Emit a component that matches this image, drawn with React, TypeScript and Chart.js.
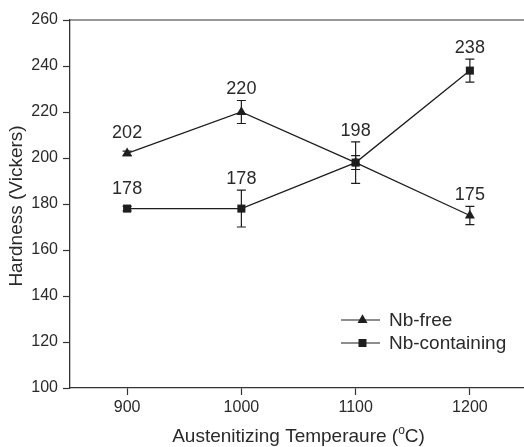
import React, { useEffect, useRef } from 'react';
import { Chart, registerables } from 'chart.js';

Chart.register(...registerables);

const temperatures = [900, 1000, 1100, 1200];
const nbFree = [202, 220, 198, 175];
const nbFreeErr = [1, 5, 3, 4];
const nbContaining = [178, 178, 198, 238];
const nbContainingErr = [1, 8, 9, 5];
const xTicks = [900, 1000, 1100, 1200];
const seriesNames = ['Nb-free', 'Nb-containing'];

const W = 534;
const H = 447;
const FONT = "'Liberation Sans', Arial, Helvetica, sans-serif";
const INK = '#1e1e1e';
const TEXT = '#2a2a2a';

function drawMarker(ctx: CanvasRenderingContext2D, style: string, x: number, y: number) {
  ctx.save();
  ctx.fillStyle = INK;
  ctx.beginPath();
  if (style === 'triangle') {
    const r = 5.8;
    ctx.moveTo(x, y - r);
    ctx.lineTo(x + r * 0.866, y + r * 0.5);
    ctx.lineTo(x - r * 0.866, y + r * 0.5);
    ctx.closePath();
  } else {
    const s = 8;
    ctx.rect(x - s / 2, y - s / 2, s, s);
  }
  ctx.fill();
  ctx.restore();
}

const errors = [nbFreeErr, nbContainingErr];
const values = [nbFree, nbContaining];
const styles = ['triangle', 'rect'];

const extrasPlugin = {
  id: 'extras',
  beforeDatasetsDraw(chart: any) {
    const ctx = chart.ctx as CanvasRenderingContext2D;
    const xs = chart.scales.x;
    const ys = chart.scales.y;
    ctx.save();
    ctx.strokeStyle = INK;
    ctx.lineWidth = 1.2;
    values.forEach((vals, di) => {
      vals.forEach((v, i) => {
        const e = errors[di][i];
        if (!e) return;
        const x = xs.getPixelForValue(temperatures[i]);
        const yt = ys.getPixelForValue(v + e);
        const yb = ys.getPixelForValue(v - e);
        ctx.beginPath();
        ctx.moveTo(x, yt);
        ctx.lineTo(x, yb);
        ctx.moveTo(x - 4.5, yt);
        ctx.lineTo(x + 4.5, yt);
        ctx.moveTo(x - 4.5, yb);
        ctx.lineTo(x + 4.5, yb);
        ctx.stroke();
      });
    });
    ctx.restore();
  },
  afterDraw(chart: any) {
    const ctx = chart.ctx as CanvasRenderingContext2D;
    const xs = chart.scales.x;
    const ys = chart.scales.y;
    const area = chart.chartArea;
    ctx.save();
    // top border
    ctx.strokeStyle = '#333';
    ctx.lineWidth = 1.2;
    ctx.beginPath();
    ctx.moveTo(area.left, area.top);
    ctx.lineTo(area.right, area.top);
    ctx.stroke();

    // data labels (one label per distinct point)
    ctx.fillStyle = TEXT;
    ctx.font = `18px ${FONT}`;
    ctx.textAlign = 'center';
    ctx.textBaseline = 'middle';
    const seen = new Set<string>();
    const labels: { x: number; y: number; text: string; key: string }[] = [];
    values.forEach((vals, di) => {
      vals.forEach((v, i) => {
        const key = `${temperatures[i]}-${v}`;
        const maxErr = Math.max(
          ...values.map((vs, dj) => (vs[i] === v ? errors[dj][i] : 0))
        );
        const x = xs.getPixelForValue(temperatures[i]);
        const yp = ys.getPixelForValue(v);
        const yt = ys.getPixelForValue(v + maxErr);
        const y = Math.min(yp - 20, yt - 11);
        labels.push({ x, y, text: String(v), key });
      });
    });
    labels.forEach((l) => {
      if (seen.has(l.key)) return;
      seen.add(l.key);
      ctx.fillText(l.text, l.x, l.y);
    });

    // legend
    const lx0 = 341;
    const lx1 = 380;
    const rows = [320, 343];
    ctx.font = `19px ${FONT}`;
    ctx.textAlign = 'left';
    rows.forEach((ry, k) => {
      ctx.strokeStyle = INK;
      ctx.lineWidth = 1.2;
      ctx.beginPath();
      ctx.moveTo(lx0, ry);
      ctx.lineTo(lx1, ry);
      ctx.stroke();
      drawMarker(ctx, styles[k], (lx0 + lx1) / 2 + 2, ry);
      ctx.fillStyle = TEXT;
      ctx.fillText(seriesNames[k], 389, ry + 1);
    });

    // y title
    ctx.save();
    ctx.translate(17, (area.top + area.bottom) / 2 + 2);
    ctx.rotate(-Math.PI / 2);
    ctx.textAlign = 'center';
    ctx.textBaseline = 'middle';
    ctx.font = `19px ${FONT}`;
    ctx.fillText('Hardness (Vickers)', 0, 0);
    ctx.restore();

    // x title with superscript o
    const a = 'Austenitizing Temperaure (';
    const sup = 'o';
    const b = 'C)';
    ctx.font = `19px ${FONT}`;
    const wa = ctx.measureText(a).width;
    const wb = ctx.measureText(b).width;
    ctx.font = `12px ${FONT}`;
    const ws = ctx.measureText(sup).width;
    const total = wa + ws + wb;
    const cx = (area.left + 524 + 3) / 2;
    let x = cx - total / 2;
    const y = 437;
    ctx.textAlign = 'left';
    ctx.textBaseline = 'middle';
    ctx.font = `19px ${FONT}`;
    ctx.fillText(a, x, y);
    x += wa;
    ctx.font = `12px ${FONT}`;
    ctx.fillText(sup, x, y - 6);
    x += ws;
    ctx.font = `19px ${FONT}`;
    ctx.fillText(b, x, y);
    ctx.restore();
  },
};

export default function App() {
  const ref = useRef<HTMLCanvasElement>(null);
  useEffect(() => {
    document.body.style.margin = '0';
    document.body.style.overflow = 'hidden';
    document.documentElement.style.overflow = 'hidden';
    const chart = new Chart(ref.current as HTMLCanvasElement, {
      type: 'scatter',
      data: {
        datasets: [
          {
            label: seriesNames[0],
            data: temperatures.map((t, i) => ({ x: t, y: nbFree[i] })),
            showLine: true,
            borderColor: INK,
            backgroundColor: INK,
            borderWidth: 1.3,
            pointStyle: 'triangle',
            pointRadius: 5.8,
            pointBackgroundColor: INK,
            pointBorderWidth: 0,
          },
          {
            label: seriesNames[1],
            data: temperatures.map((t, i) => ({ x: t, y: nbContaining[i] })),
            showLine: true,
            borderColor: INK,
            backgroundColor: INK,
            borderWidth: 1.3,
            pointStyle: 'rect',
            pointRadius: 5.7,
            pointBackgroundColor: INK,
            pointBorderWidth: 0,
          },
        ],
      },
      options: {
        responsive: false,
        animation: false,
        devicePixelRatio: 1,
        layout: { padding: { top: 20, right: 7, left: 0, bottom: 0 } },
        plugins: { legend: { display: false }, tooltip: { enabled: false } },
        scales: {
          x: {
            type: 'linear',
            min: 850,
            max: 1250,
            afterBuildTicks: (s: any) => {
              s.ticks = xTicks.map((v) => ({ value: v }));
            },
            afterFit: (s: any) => {
              s.height = 59;
            },
            grid: { drawOnChartArea: false, tickLength: 7, color: '#333', tickWidth: 1.2 },
            border: { color: '#333', width: 1.3 },
            ticks: {
              color: TEXT,
              font: { family: FONT, size: 16 },
              padding: 3,
              maxRotation: 0,
              callback: (v: any) => String(v),
            },
          },
          y: {
            min: 100,
            max: 260,
            afterFit: (s: any) => {
              s.width = 70;
            },
            grid: { drawOnChartArea: false, tickLength: 7, color: '#333', tickWidth: 1.2 },
            border: { color: '#333', width: 1.3 },
            ticks: {
              stepSize: 20,
              color: TEXT,
              font: { family: FONT, size: 16 },
              padding: 5,
              callback: (v: any) => String(v),
            },
          },
        },
      },
      plugins: [extrasPlugin],
    } as any);
    return () => chart.destroy();
  }, []);
  return (
    <div style={{ position: 'absolute', left: 0, top: 0, width: W, height: H, background: '#fff' }}>
      <canvas ref={ref} width={W} height={H} style={{ display: 'block', width: W, height: H }} />
    </div>
  );
}
